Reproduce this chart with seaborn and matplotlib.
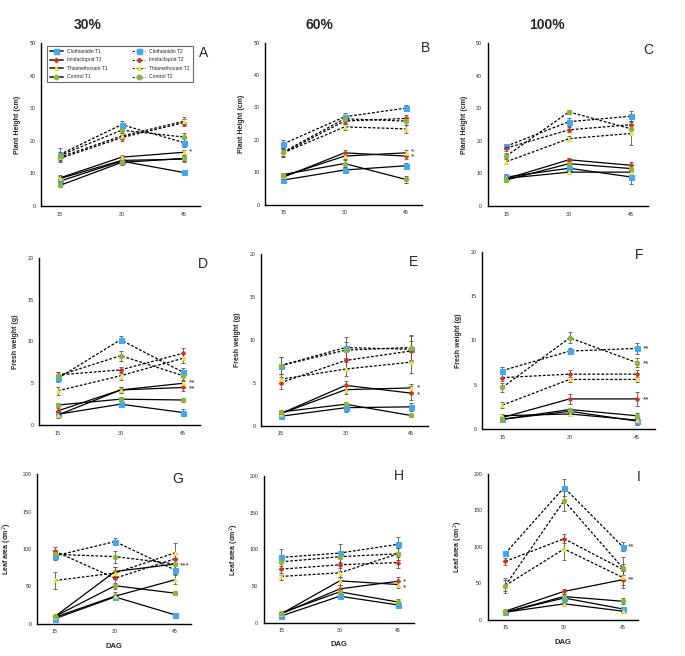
import pandas as pd
import seaborn as sns
import matplotlib.pyplot as plt
from matplotlib.lines import Line2D

days = [15, 30, 45]
compounds = ["Clothianidin", "Imidacloprid", "Thiamethoxam", "Control"]
colors = {"Clothianidin": "#3fa9f5", "Imidacloprid": "#d7301f",
          "Thiamethoxam": "#f2e33a", "Control": "#8cb43c"}
markers = {"Clothianidin": ("s", 3.6), "Imidacloprid": ("D", 2.2),
           "Thiamethoxam": ("^", 2.6), "Control": ("o", 3.2)}
col_titles = ["30%", "60%", "100%"]
letters = ["A", "B", "C", "D", "E", "F", "G", "H", "I"]

# plant height (cm)
height_30 = {"Clothianidin T1": [7.6, 13.8, 10.3], "Imidacloprid T1": [8.4, 14.0, 14.4],
             "Thiamethoxam T1": [8.6, 15.0, 16.5], "Control T1": [6.3, 13.4, 14.6],
             "Clothianidin T2": [15.8, 25.0, 19.5], "Imidacloprid T2": [14.6, 21.0, 25.6],
             "Thiamethoxam T2": [15.0, 21.5, 26.0], "Control T2": [15.5, 23.3, 21.2]}
height_30_err = {"Clothianidin T1": [0.6, 0.7, 0.6], "Imidacloprid T1": [0.7, 0.8, 0.9],
                 "Thiamethoxam T1": [0.8, 0.7, 0.8], "Control T1": [0.5, 0.7, 0.9],
                 "Clothianidin T2": [2.0, 1.0, 1.3], "Imidacloprid T2": [1.0, 0.9, 1.0],
                 "Thiamethoxam T2": [1.0, 1.0, 1.2], "Control T2": [1.2, 1.0, 1.1]}
height_60 = {"Clothianidin T1": [7.6, 10.7, 12.0], "Imidacloprid T1": [8.5, 16.0, 15.0],
             "Thiamethoxam T1": [8.8, 15.0, 16.0], "Control T1": [9.3, 12.7, 7.8],
             "Clothianidin T2": [18.8, 27.1, 29.8], "Imidacloprid T2": [16.0, 25.8, 26.6],
             "Thiamethoxam T2": [16.0, 24.0, 23.4], "Control T2": [16.3, 26.5, 25.8]}
height_60_err = {"Clothianidin T1": [0.5, 0.8, 1.0], "Imidacloprid T1": [0.6, 1.0, 1.0],
                 "Thiamethoxam T1": [0.6, 1.0, 1.0], "Control T1": [0.6, 1.0, 1.2],
                 "Clothianidin T2": [1.3, 1.2, 1.0], "Imidacloprid T2": [1.2, 1.0, 1.2],
                 "Thiamethoxam T2": [1.2, 1.0, 1.3], "Control T2": [1.3, 1.2, 1.3]}
height_100 = {"Clothianidin T1": [8.9, 11.6, 8.9], "Imidacloprid T1": [8.4, 14.2, 12.5],
              "Thiamethoxam T1": [8.5, 10.4, 10.4], "Control T1": [8.0, 13.0, 11.5],
              "Clothianidin T2": [18.4, 25.9, 27.6], "Imidacloprid T2": [17.8, 23.4, 25.0],
              "Thiamethoxam T2": [13.6, 20.7, 22.3], "Control T2": [15.4, 28.9, 23.7]}
height_100_err = {"Clothianidin T1": [1.0, 0.8, 2.0], "Imidacloprid T1": [0.8, 0.6, 1.0],
                  "Thiamethoxam T1": [0.7, 0.6, 0.8], "Control T1": [0.7, 0.7, 1.0],
                  "Clothianidin T2": [0.8, 1.2, 1.5], "Imidacloprid T2": [0.8, 0.8, 1.2],
                  "Thiamethoxam T2": [0.8, 0.7, 3.5], "Control T2": [0.8, 0.7, 1.6]}

# fresh weight (g)
fresh_30 = {"Clothianidin T1": [1.3, 2.5, 1.5], "Imidacloprid T1": [1.7, 4.2, 4.5],
            "Thiamethoxam T1": [1.2, 4.2, 5.0], "Control T1": [2.4, 3.1, 3.0],
            "Clothianidin T2": [5.6, 10.2, 6.3], "Imidacloprid T2": [6.0, 6.6, 8.6],
            "Thiamethoxam T2": [4.1, 5.9, 8.0], "Control T2": [5.9, 8.3, 5.9]}
fresh_30_err = {"Clothianidin T1": [0.3, 0.2, 0.4], "Imidacloprid T1": [0.3, 0.3, 0.4],
                "Thiamethoxam T1": [0.3, 0.4, 0.4], "Control T1": [0.2, 0.2, 0.2],
                "Clothianidin T2": [0.4, 0.4, 0.5], "Imidacloprid T2": [0.4, 0.4, 0.6],
                "Thiamethoxam T2": [0.5, 0.5, 0.6], "Control T2": [0.4, 0.6, 0.6]}
fresh_60 = {"Clothianidin T1": [1.1, 2.1, 2.2], "Imidacloprid T1": [1.4, 4.7, 3.8],
            "Thiamethoxam T1": [1.4, 4.2, 4.4], "Control T1": [1.6, 2.5, 1.2],
            "Clothianidin T2": [7.0, 9.1, 8.9], "Imidacloprid T2": [5.0, 7.6, 8.7],
            "Thiamethoxam T2": [5.4, 6.6, 7.4], "Control T2": [7.0, 8.8, 9.1]}
fresh_60_err = {"Clothianidin T1": [0.2, 0.5, 0.5], "Imidacloprid T1": [0.2, 0.5, 0.8],
                "Thiamethoxam T1": [0.2, 0.5, 0.5], "Control T1": [0.2, 0.3, 0.2],
                "Clothianidin T2": [1.0, 1.2, 1.5], "Imidacloprid T2": [0.7, 1.0, 1.2],
                "Thiamethoxam T2": [0.6, 0.8, 1.3], "Control T2": [1.0, 1.0, 1.5]}
fresh_100 = {"Clothianidin T1": [1.1, 2.0, 0.9], "Imidacloprid T1": [1.3, 3.4, 3.4],
             "Thiamethoxam T1": [1.5, 1.7, 1.0], "Control T1": [1.1, 2.2, 1.5],
             "Clothianidin T2": [6.6, 8.8, 9.1], "Imidacloprid T2": [5.8, 6.2, 6.2],
             "Thiamethoxam T2": [2.7, 5.6, 5.6], "Control T2": [4.7, 10.3, 7.5]}
fresh_100_err = {"Clothianidin T1": [0.2, 0.2, 0.5], "Imidacloprid T1": [0.2, 0.6, 0.8],
                 "Thiamethoxam T1": [0.2, 0.2, 0.3], "Control T1": [0.2, 0.2, 0.3],
                 "Clothianidin T2": [0.4, 0.3, 0.6], "Imidacloprid T2": [0.4, 0.5, 0.5],
                 "Thiamethoxam T2": [0.3, 0.3, 0.3], "Control T2": [0.5, 0.6, 0.5]}

# leaf area (cm2)
leaf_30 = {"Clothianidin T1": [7, 36, 12], "Imidacloprid T1": [10, 70, 80],
           "Thiamethoxam T1": [9, 37, 59], "Control T1": [10, 51, 41],
           "Clothianidin T2": [91, 110, 72], "Imidacloprid T2": [97, 61, 87],
           "Thiamethoxam T2": [58, 68, 95], "Control T2": [93, 90, 80]}
leaf_30_err = {"Clothianidin T1": [2, 4, 2], "Imidacloprid T1": [2, 6, 6],
               "Thiamethoxam T1": [2, 5, 6], "Control T1": [2, 4, 3],
               "Clothianidin T2": [6, 5, 6], "Imidacloprid T2": [6, 8, 8],
               "Thiamethoxam T2": [11, 8, 13], "Control T2": [6, 8, 8]}
leaf_60 = {"Clothianidin T1": [9, 36, 24], "Imidacloprid T1": [12, 46, 56.5],
           "Thiamethoxam T1": [12, 57, 52], "Control T1": [13, 42, 28],
           "Clothianidin T2": [89, 95, 107], "Imidacloprid T2": [73, 79, 82],
           "Thiamethoxam T2": [63, 68, 94], "Control T2": [83, 90, 94]}
leaf_60_err = {"Clothianidin T1": [2, 4, 3], "Imidacloprid T1": [2, 5, 6],
               "Thiamethoxam T1": [2, 5, 5], "Control T1": [2, 4, 4],
               "Clothianidin T2": [12, 12, 10], "Imidacloprid T2": [8, 8, 8],
               "Thiamethoxam T2": [5, 6, 8], "Control T2": [8, 8, 8]}
leaf_100 = {"Clothianidin T1": [10.5, 30, 15], "Imidacloprid T1": [12, 39, 55],
            "Thiamethoxam T1": [10.5, 22, 12], "Control T1": [10.5, 32, 25.5],
            "Clothianidin T2": [91, 181, 100], "Imidacloprid T2": [80, 111, 69],
            "Thiamethoxam T2": [47, 97, 58], "Control T2": [47, 163, 71]}
leaf_100_err = {"Clothianidin T1": [1, 3, 2], "Imidacloprid T1": [2, 3, 12],
                "Thiamethoxam T1": [1, 3, 2], "Control T1": [1, 3, 4],
                "Clothianidin T2": [3, 12, 6], "Imidacloprid T2": [5, 6, 8],
                "Thiamethoxam T2": [10, 15, 10], "Control T2": [8, 14, 15]}

# significance marks next to the day-45 points
stars = {"A": [(16.5, "*")], "B": [(16.3, "*"), (14.6, "*")], "C": [],
         "D": [(5.1, "**"), (4.3, "**")], "E": [(4.4, "*"), (3.6, "*")],
         "F": [(9.0, "**"), (7.4, "**"), (3.3, "**")], "G": [(78, "***")],
         "H": [(56, "*"), (47, "*")], "I": [(100, "**"), (55, "**")]}

panels = [(height_30, height_30_err), (height_60, height_60_err), (height_100, height_100_err),
          (fresh_30, fresh_30_err), (fresh_60, fresh_60_err), (fresh_100, fresh_100_err),
          (leaf_30, leaf_30_err), (leaf_60, leaf_60_err), (leaf_100, leaf_100_err)]
row_ylabels = ["Plant Height (cm)", "Fresh weight (g)", "Leaf area (cm$^2$)"]
row_ylims = [(0, 50, 10), (0, 20, 5), (0, 200, 50)]

# axes rectangles in figure fractions
positions = [[0.060, 0.686, 0.232, 0.248], [0.387, 0.688, 0.229, 0.247], [0.712, 0.686, 0.234, 0.248],
             [0.057, 0.352, 0.235, 0.255], [0.381, 0.351, 0.244, 0.262], [0.704, 0.346, 0.252, 0.270],
             [0.054, 0.049, 0.225, 0.228], [0.385, 0.051, 0.219, 0.223], [0.712, 0.055, 0.220, 0.223]]
letter_pos = [(1.02, 0.94), (1.02, 0.97), (1.0, 0.96), (1.02, 0.96), (0.91, 0.95),
              (0.91, 0.98), (0.91, 0.97), (0.9, 1.0), (1.0, 0.98)]
title_x = [0.128, 0.467, 0.798]

sns.set_style("white")
plt.rcParams['font.family'] = ['Liberation Sans', 'DejaVu Sans']

fig = plt.figure(figsize=(6.85, 6.56), dpi=100)

for i, (means, errs) in enumerate(panels):
    ax = fig.add_axes(positions[i])
    row = i // 3
    for name, vals in means.items():
        comp, treat = name.split()
        mk, ms = markers[comp]
        ls = "-" if treat == "T1" else (0, (2.2, 1.4))
        ax.errorbar(days, vals, yerr=errs[name], fmt="none", ecolor="#555555",
                    elinewidth=0.6, capsize=1.2, capthick=0.6, zorder=2)
        sns.lineplot(x=days, y=vals, ax=ax, color="black", linewidth=0.9,
                     linestyle=ls, marker=mk, markersize=ms,
                     markerfacecolor=colors[comp], markeredgecolor=colors[comp],
                     zorder=3)
    lo, hi, step = row_ylims[row]
    ax.set_ylim(lo, hi)
    ax.set_xlim(10.5, 49)
    ax.set_yticks(range(lo, hi + 1, step))
    ax.set_xticks(days)
    ax.tick_params(labelsize=3.8, length=0, pad=4)
    for side in ["top", "right"]:
        ax.spines[side].set_visible(False)
    for side in ["left", "bottom"]:
        ax.spines[side].set_color("black")
        ax.spines[side].set_linewidth(1.0)
    ax.set_ylabel(row_ylabels[row], fontsize=5, fontweight="bold", labelpad=6)
    ax.set_xlabel("DAG" if row == 2 else "", fontsize=5.5, fontweight="bold", labelpad=6)
    lx, ly = letter_pos[i]
    ax.text(lx, ly, letters[i], transform=ax.transAxes, fontsize=10, ha="center", va="center")
    for yv, s in stars[letters[i]]:
        ax.text(46.3, yv, s, fontsize=6, ha="left", va="center")

for x, t in zip(title_x, col_titles):
    fig.text(x, 0.962, t, fontsize=10, fontweight="bold", ha="center", va="center")

# legend inside panel A
handles = []
for treat in ["T1", "T2"]:
    for comp in compounds:
        mk, ms = markers[comp]
        handles.append(Line2D([0], [0], color="#444444", linewidth=1.4 if treat == "T1" else 0.9,
                              linestyle="-" if treat == "T1" else (0, (2, 1.3)),
                              marker=mk, markersize=ms, markerfacecolor=colors[comp],
                              markeredgecolor=colors[comp], label=f"{comp} {treat}"))
axA = fig.axes[0]
leg = axA.legend(handles=handles, ncol=2, loc="upper left", bbox_to_anchor=(0.02, 1.0, 0.95, 0),
                 mode="expand", fontsize=3.6, frameon=True, fancybox=False,
                 handlelength=2.6, borderpad=0.6, labelspacing=0.7, columnspacing=1.0)
leg.get_frame().set_edgecolor("#444444")
leg.get_frame().set_linewidth(0.8)

plt.savefig("out.png", dpi=100)
